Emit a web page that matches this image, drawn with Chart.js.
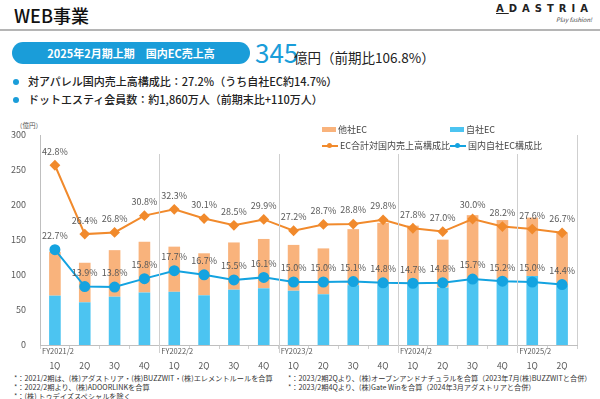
<!DOCTYPE html>
<html lang="ja">
<head>
<meta charset="utf-8">
<script src="https://cdn.jsdelivr.net/npm/chart.js@4.4.1/dist/chart.umd.min.js"></script>
<style>
    body { margin: 0; width: 600px; height: 399px; background: #fff; font-family: "Noto Sans CJK JP", sans-serif; color: #222; position: relative; overflow: hidden; }
    .abs { position: absolute; white-space: nowrap; }
    #title { left: 14px; top: 2px; font-size: 18px; font-weight: 500; color: #111; }
    #rule { left: 0; top: 29px; width: 600px; height: 2px; background: #b5b5b5; }
    #logo { right: 7px; top: 3px; font-size: 10px; font-weight: bold; letter-spacing: 5px; color: #222; font-family: "DejaVu Sans", sans-serif; }
    #tag { right: 8px; top: 15px; font-size: 6px; font-style: italic; color: #444; }
    #banner { left: 12px; top: 42px; width: 238px; height: 22px; border-radius: 11px; background: #1a9dd9; color: #fff; font-size: 11px; font-weight: bold; line-height: 22px; text-align: center; }
    #big { left: 255px; top: 33px; font-size: 26px; color: #1a9dd9; }
    #bigunit { left: 294px; top: 47px; font-size: 13.5px; color: #222; }
    .bullet { left: 13px; font-size: 11px; font-weight: 500; color: #222; }
    .bullet::before { content: ''; display: inline-block; width: 6px; height: 6px; border-radius: 3px; background: #1a9dd9; margin-right: 9px; vertical-align: middle; position: relative; top: -1px; }
    #unit { left: 16px; top: 120px; font-size: 6.5px; color: #555; }
    #chartBox { position: absolute; left: 0; top: 115px; width: 600px; height: 255px; }
    .leg { font-size: 9px; color: #444; display: flex; align-items: center; }
    .note { font-size: 7.2px; color: #333; }
</style>
</head>
<body>
<div class="abs" id="title">WEB事業</div>
<div class="abs" id="rule"></div>
<div class="abs" id="logo"><u>A</u>DASTRIA</div>
<div class="abs" id="tag">Play fashion!</div>
<div class="abs" id="banner">2025年2月期上期　国内EC売上高</div>
<div class="abs" id="big">345</div>
<div class="abs" id="bigunit">億円（前期比106.8%）</div>
<div class="abs bullet" style="top:73px">対アパレル国内売上高構成比：27.2%（うち自社EC約14.7%）</div>
<div class="abs bullet" style="top:91px">ドットエスティ会員数：約1,860万人（前期末比+110万人）</div>
<div class="abs" id="unit">（億円）</div>
<div id="chartBox"><canvas id="chart"></canvas></div>
<div id="legend"></div>
<div class="abs note" style="left:14px;top:373px">*：2021/2期は、(株)アダストリア・(株)BUZZWIT・(株)エレメントルールを合算</div>
<div class="abs note" style="left:14px;top:382px">*：2022/2期より、(株)ADOORLINKを合算</div>
<div class="abs note" style="left:14px;top:391px">*：(株) トゥデイズスペシャルを除く</div>
<div class="abs note" style="left:288px;top:373px">*：2023/2期2Qより、(株)オープンアンドナチュラルを合算（2023年7月(株)BUZZWITと合併）</div>
<div class="abs note" style="left:288px;top:382px">*：2023/2期4Qより、(株)Gate Winを合算（2024年3月アダストリアと合併）</div>
<script>
    'use strict';

    // データ
    const quarters = ['1Q', '2Q', '3Q', '4Q', '1Q', '2Q', '3Q', '4Q', '1Q', '2Q', '3Q', '4Q', '1Q', '2Q', '3Q', '4Q', '1Q', '2Q'];
    const fiscalYears = ['FY2021/2', 'FY2022/2', 'FY2023/2', 'FY2024/2', 'FY2025/2'];
    const selfEC = [70.5, 61, 69, 75, 76, 71, 79, 81, 77.5, 72.5, 85.5, 87, 87, 82, 96, 95, 98.5, 85.5];
    const otherEC = [62.5, 56.5, 66.5, 72.5, 64.5, 60, 67.5, 70.5, 65.5, 65.5, 80, 87.5, 83.5, 68.5, 89.5, 83.5, 83.5, 75];
    const ecRatio = [42.8, 26.4, 26.8, 30.8, 32.3, 30.1, 28.5, 29.9, 27.2, 28.7, 28.8, 29.8, 27.8, 27.0, 30.0, 28.2, 27.6, 26.7];
    const selfRatio = [22.7, 13.9, 13.8, 15.8, 17.7, 16.7, 15.5, 16.1, 15.0, 15.0, 15.1, 14.8, 14.7, 14.8, 15.7, 15.2, 15.0, 14.4];
    const yTicks = [0, 50, 100, 150, 200, 250, 300];

    const colors = {
        otherBar: '#f9b37c',
        selfBar: '#4cc4f1',
        ecLine: '#f18a2c',
        selfLine: '#14a3e0',
        text: '#595959',
        sep: '#cfcfcf'
    };
    const font = '"Noto Sans CJK JP", sans-serif';

    // 凡例 (HTML)
    const legendItems = [
        { text: '他社EC', x: 322, y: 123, type: 'box', color: colors.otherBar },
        { text: '自社EC', x: 450, y: 123, type: 'box', color: colors.selfBar },
        { text: 'EC合計対国内売上高構成比', x: 322, y: 139, type: 'line', color: colors.ecLine },
        { text: '国内自社EC構成比', x: 450, y: 139, type: 'line', color: colors.selfLine }
    ];
    legendItems.forEach(function(item) {
        const el = document.createElement('div');
        el.className = 'abs leg';
        el.style.left = item.x + 'px';
        el.style.top = item.y + 'px';
        let mark;
        if (item.type === 'box') {
            mark = '<span style="display:inline-block;width:14px;height:5px;background:' + item.color + ';margin-right:2px"></span>';
        } else {
            mark = '<span style="display:inline-block;position:relative;width:16px;height:2px;background:' + item.color + ';margin-right:2px">' +
                '<span style="position:absolute;left:5px;top:-2px;width:5px;height:5px;border-radius:3px;background:' + item.color + '"></span></span>';
        }
        el.innerHTML = mark + item.text;
        document.getElementById('legend').appendChild(el);
    });

    // 区切り線・年度ラベル・右枠
    const decorPlugin = {
        id: 'decor',
        afterDatasetsDraw: function(chart) {
            const ctx = chart.ctx;
            const x = chart.scales.x;
            const area = chart.chartArea;
            const step = x.getPixelForValue(1) - x.getPixelForValue(0);
            ctx.save();
            ctx.strokeStyle = colors.sep;
            ctx.lineWidth = 1;
            for (let g = 1; g < fiscalYears.length; g++) {
                const px = Math.round(x.getPixelForValue(g * 4) - step / 2) + 0.5;
                ctx.beginPath();
                ctx.moveTo(px, area.top + 19);
                ctx.lineTo(px, area.bottom + 8);
                ctx.stroke();
            }
            ctx.beginPath();
            ctx.moveTo(Math.round(area.right) + 0.5, area.top);
            ctx.lineTo(Math.round(area.right) + 0.5, area.bottom);
            ctx.stroke();

            ctx.fillStyle = colors.text;
            ctx.font = '7.5px ' + font;
            ctx.textAlign = 'left';
            ctx.textBaseline = 'middle';
            fiscalYears.forEach(function(fy, g) {
                const px = x.getPixelForValue(g * 4) - step / 2 + 2;
                ctx.fillText(fy, px, area.bottom + 6);
            });
            ctx.restore();
        }
    };

    // 折れ線のデータラベル
    const labelPlugin = {
        id: 'pctLabels',
        afterDatasetsDraw: function(chart) {
            const ctx = chart.ctx;
            ctx.save();
            ctx.font = '9px ' + font;
            ctx.fillStyle = colors.text;
            ctx.textAlign = 'center';
            ctx.textBaseline = 'middle';
            chart.data.datasets.forEach(function(ds, i) {
                if (ds.type !== 'line') return;
                chart.getDatasetMeta(i).data.forEach(function(pt, j) {
                    ctx.fillText(ds.data[j].toFixed(1) + '%', pt.x, pt.y - 14);
                });
            });
            ctx.restore();
        }
    };

    new Chart(document.getElementById('chart'), {
        type: 'bar',
        data: {
            labels: quarters,
            datasets: [
                { type: 'line', label: 'EC合計対国内売上高構成比', data: ecRatio, yAxisID: 'y2', borderColor: colors.ecLine, backgroundColor: colors.ecLine, borderWidth: 2, pointStyle: 'rectRot', pointRadius: 4, order: 1 },
                { type: 'line', label: '国内自社EC構成比', data: selfRatio, yAxisID: 'y2', borderColor: colors.selfLine, backgroundColor: colors.selfLine, borderWidth: 2, pointStyle: 'circle', pointRadius: 4.5, order: 1 },
                { label: '自社EC', data: selfEC, backgroundColor: colors.selfBar, stack: 'ec', order: 2 },
                { label: '他社EC', data: otherEC, backgroundColor: colors.otherBar, stack: 'ec', order: 2 }
            ]
        },
        options: {
            responsive: true,
            maintainAspectRatio: false,
            animation: false,
            layout: { padding: { top: 20, right: 23, left: 0, bottom: 0 } },
            datasets: { bar: { barPercentage: 0.39, categoryPercentage: 1 } },
            plugins: { legend: { display: false }, tooltip: { enabled: false } },
            scales: {
                x: {
                    stacked: true,
                    grid: { display: true, drawOnChartArea: false, offset: true, tickLength: 4, color: '#d0d0d0' },
                    border: { color: '#bfbfbf' },
                    ticks: { color: colors.text, font: { family: font, size: 8.5 }, padding: 12, maxRotation: 0 },
                    afterFit: function(s) { s.height = 25; }
                },
                y: {
                    stacked: true,
                    min: 0,
                    max: 300,
                    afterBuildTicks: function(s) { s.ticks = yTicks.map(function(v) { return { value: v }; }); },
                    grid: { display: false },
                    border: { display: true, color: '#bfbfbf' },
                    ticks: { color: colors.text, font: { family: font, size: 9 }, padding: 6 },
                    afterFit: function(s) { s.width = 40; }
                },
                y2: { display: false, min: 0, max: 50 }
            }
        },
        plugins: [decorPlugin, labelPlugin]
    });
</script>
</body>
</html>
